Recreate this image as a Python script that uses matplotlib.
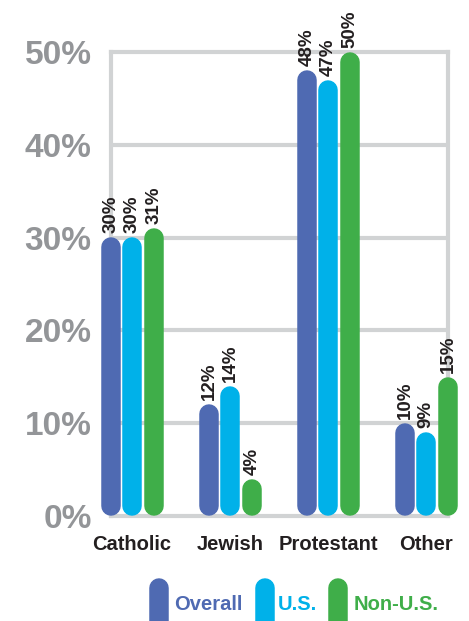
import matplotlib
matplotlib.use("Agg")
import matplotlib.pyplot as plt

# data
categories = ["Catholic", "Jewish", "Protestant", "Other"]
series = ["Overall", "U.S.", "Non-U.S."]
overall = [30, 12, 48, 10]
us = [30, 14, 47, 9]
non_us = [31, 4, 50, 15]
yticks = [0, 10, 20, 30, 40, 50]
ytick_labels = ["0%", "10%", "20%", "30%", "40%", "50%"]

colors = ["#4f6ab2", "#00b1e9", "#3fae49"]
grid = "#d1d3d4"

plt.rcParams["font.family"] = ["Liberation Sans", "DejaVu Sans"]

W, H, DPI = 469, 621, 100
fig = plt.figure(figsize=(W / DPI, H / DPI), dpi=DPI)

# axes box in pixels: x 111..448, y 52..516
ax = fig.add_axes([111 / W, (H - 516) / H, (448 - 111) / W, (516 - 52) / H])
group_px = 98.0
x_lo = -(132 - 111) / group_px
x_hi = 3 + (448 - 426) / group_px
ax.set_xlim(x_lo, x_hi)
ax.set_ylim(0, 50)

px_per_y = (516 - 52) / 50.0
bar_px = 19.5
cap_y = (bar_px / 2) / px_per_y
lw = bar_px * 72 / DPI
offsets = [-21 / group_px, 0, 22 / group_px]

ax.set_axisbelow(True)
for y in yticks[1:-1]:
    ax.axhline(y, color=grid, lw=3, zorder=0)
for s in ["left", "right", "top", "bottom"]:
    ax.spines[s].set_color(grid)
    ax.spines[s].set_linewidth(3)
    ax.spines[s].set_zorder(0)

for vals, off, c in zip([overall, us, non_us], offsets, colors):
    for i, v in enumerate(vals):
        x = i + off
        ax.plot([x, x], [cap_y, v - cap_y], color=c, lw=lw,
                solid_capstyle="round", clip_on=False, zorder=3)
        ax.annotate(f"{v}%", (x, v), xytext=(0, 3), textcoords="offset points",
                    rotation=90, ha="center", va="bottom", fontsize=13.5,
                    fontweight="bold", color="#231f20", annotation_clip=False)

ax.set_yticks(yticks)
ax.set_yticklabels(ytick_labels, fontsize=24, fontweight="bold", color="#939598")
ax.set_xticks(range(len(categories)))
ax.set_xticklabels(categories, fontsize=14.5, fontweight="bold", color="#231f20")
ax.tick_params(axis="y", length=0, pad=14)
ax.tick_params(axis="x", length=0, pad=14)

# legend drawn in a pixel-space overlay
deco = fig.add_axes([0, 0, 1, 1], zorder=-1)
deco.set_xlim(0, W)
deco.set_ylim(H, 0)
deco.axis("off")
leg_pill_x = [159, 265, 338]
leg_text_x = [174, 278, 354]
for lab, c, px, tx in zip(series, colors, leg_pill_x, leg_text_x):
    deco.plot([px, px], [588, 650], color=c, lw=lw, solid_capstyle="round")
    deco.text(tx, 604, lab, color=c, fontsize=14.5, fontweight="bold",
              ha="left", va="center")

fig.savefig("out.png", dpi=DPI)
